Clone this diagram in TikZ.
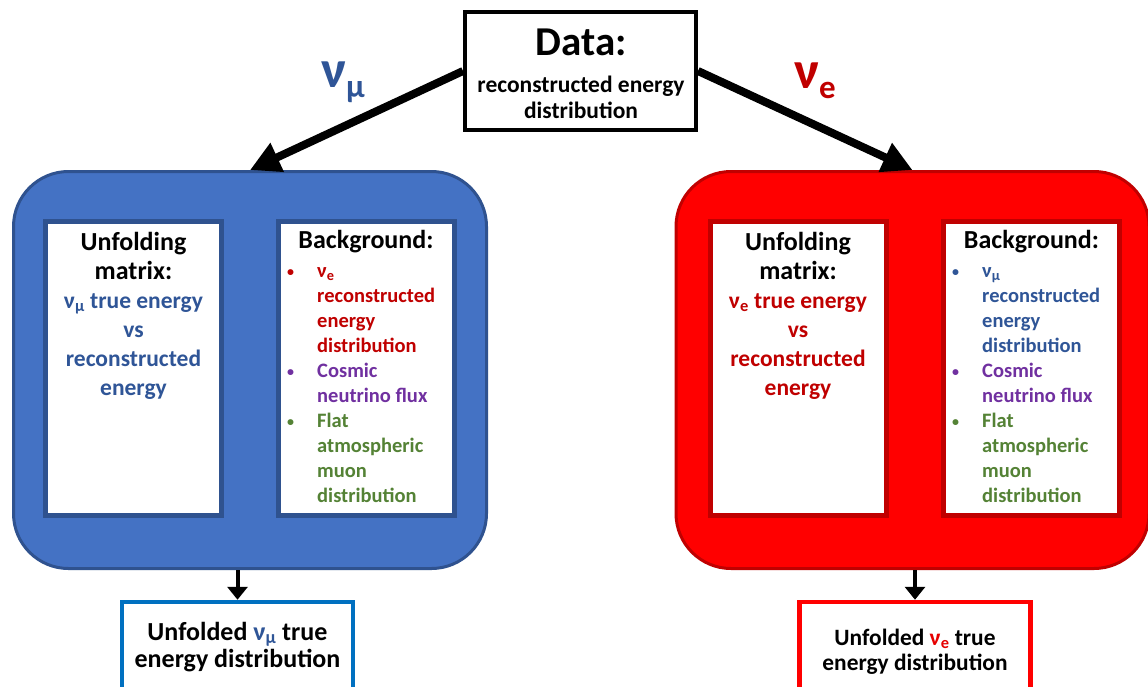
\documentclass[tikz,border=0pt]{standalone}
\usepackage{fontspec}
\setmainfont{Carlito}
\usetikzlibrary{arrows.meta}
\definecolor{bfill}{HTML}{4472C4}
\definecolor{bline}{HTML}{2F528F}
\definecolor{btext}{HTML}{2F5597}
\definecolor{rfill}{HTML}{FF0000}
\definecolor{rline}{HTML}{C00000}
\definecolor{rtext}{HTML}{C00000}
\definecolor{ptext}{HTML}{7030A0}
\definecolor{gtext}{HTML}{548235}
\definecolor{lbotline}{HTML}{0070C0}
\definecolor{esub}{HTML}{E60000}
\newcommand{\blt}[1]{\makebox[31.5pt][l]{\hspace{1.5pt}\color{#1}\raisebox{1pt}{\fontsize{14}{14}\selectfont •}}}
\newcommand{\nob}{\makebox[31.5pt][l]{}}
\begin{document}
\begin{tikzpicture}[x=1pt,y=-1pt, font=\bfseries,
  box/.style={draw, line width=4pt, fill=white, inner sep=0pt},
  bigbox/.style={line width=3pt, rounded corners=55pt, inner sep=0pt, minimum width=473pt, minimum height=397pt},
  panel/.style={draw, line width=5pt, fill=white, inner sep=0pt, minimum width=176pt, minimum height=294pt},
  txt/.style={inner sep=0pt, anchor=base, align=center},
  listtxt/.style={inner sep=0pt, anchor=base west, align=left},
  biglabel/.style={inner sep=0pt, anchor=base west},
  bigarrow/.style={line width=8pt, -{Triangle[length=30pt,width=30pt]}},
  downarrow/.style={line width=4pt, -{Triangle[length=13pt,width=20pt]}}
]
\clip (0,0) rectangle (1148,686);
\fill[white] (0,0) rectangle (1148,686);

% big boxes
\node[bigbox, draw=bline, fill=bfill] (lbox) at (250,370) {};
\node[bigbox, draw=rline, fill=rfill] (rbox) at (912.5,370) {};

% panels
\node[panel, draw=bline] (lum) at (133.5,368.5) {};
\node[panel, draw=bline] (lbg) at (366.5,368.5) {};
\node[panel, draw=rline] (rum) at (798,368.5) {};
\node[panel, draw=rline] (rbg) at (1031.5,368.5) {};

% data box
\node[box, draw=black, minimum width=231pt, minimum height=118pt] (data) at (580.5,71) {};
\node[txt] (datat) at (581,55) {\fontsize{41}{41}\selectfont Data:};
\node[txt] (datas) at (581,92) {\fontsize{23.5}{26}\selectfont\begin{tabular}[t]{@{}c@{}}reconstructed energy\\distribution\end{tabular}};

% bottom boxes
\node[box, draw=lbotline, line width=4.5pt, minimum width=231pt, minimum height=118pt] (lbot) at (237.5,661) {};
\node[box, draw=rfill, line width=4.5pt, minimum width=231pt, minimum height=118pt] (rbot) at (915,661) {};

% arrows
\draw[bigarrow] (data.west) -- (lbox.north);
\draw[bigarrow] (data.east) -- (rbox.north);
\draw[downarrow] (lbot.north |- lbox.south) -- (lbot.north);
\draw[downarrow] (rbot.north |- rbox.south) -- (rbot.north);

% arrow labels
\node[biglabel, text=btext] (lnu) at (321,87) {\fontsize{53}{53}\selectfont ν\raisebox{-10pt}{\fontsize{33}{33}\selectfont μ}};
\node[biglabel, text=rtext] (rnu) at (794,88) {\fontsize{53}{53}\selectfont ν\raisebox{-10pt}{\fontsize{33}{33}\selectfont e}};

% left panel texts
\node[txt] (lumt) at (133.5,250) {\fontsize{26}{29}\selectfont\begin{tabular}[t]{@{}c@{}}Unfolding\\matrix:\\\fontsize{23.5}{29}\selectfont\color{btext}ν\textsubscript{μ} true energy\\\fontsize{23.5}{29}\selectfont\color{btext}vs\\\fontsize{23.5}{29}\selectfont\color{btext}reconstructed\\\fontsize{23.5}{29}\selectfont\color{btext}energy\end{tabular}};
\node[txt] (lbgt) at (366,248) {\fontsize{26}{29}\selectfont Background:};
\node[listtxt] (lbgl) at (285.5,277) {\fontsize{20.5}{25}\selectfont\begin{tabular}[t]{@{}l@{}}
\blt{rtext}\color{rtext}ν\textsubscript{e}\\
\nob\color{rtext}reconstructed\\
\nob\color{rtext}energy\\
\nob\color{rtext}distribution\\
\blt{ptext}\color{ptext}Cosmic\\
\nob\color{ptext}neutrino flux\\
\blt{gtext}\color{gtext}Flat\\
\nob\color{gtext}atmospheric\\
\nob\color{gtext}muon\\
\nob\color{gtext}distribution
\end{tabular}};

% right panel texts
\node[txt] (rumt) at (798,250) {\fontsize{26}{29}\selectfont\begin{tabular}[t]{@{}c@{}}Unfolding\\matrix:\\\fontsize{23.5}{29}\selectfont\color{rtext}ν\textsubscript{e} true energy\\\fontsize{23.5}{29}\selectfont\color{rtext}vs\\\fontsize{23.5}{29}\selectfont\color{rtext}reconstructed\\\fontsize{23.5}{29}\selectfont\color{rtext}energy\end{tabular}};
\node[txt] (rbgt) at (1031.5,248) {\fontsize{26}{29}\selectfont Background:};
\node[listtxt] (rbgl) at (950.5,277) {\fontsize{20.5}{25}\selectfont\begin{tabular}[t]{@{}l@{}}
\blt{btext}\color{btext}ν\textsubscript{μ}\\
\nob\color{btext}reconstructed\\
\nob\color{btext}energy\\
\nob\color{btext}distribution\\
\blt{ptext}\color{ptext}Cosmic\\
\nob\color{ptext}neutrino flux\\
\blt{gtext}\color{gtext}Flat\\
\nob\color{gtext}atmospheric\\
\nob\color{gtext}muon\\
\nob\color{gtext}distribution
\end{tabular}};

% bottom texts
\node[txt] (lbott) at (237.5,640) {\fontsize{26}{27}\selectfont\begin{tabular}[t]{@{}c@{}}Unfolded {\color{btext}ν\textsubscript{μ}} true\\energy distribution\end{tabular}};
\node[txt] (rbott) at (915,645) {\fontsize{23.4}{25}\selectfont\begin{tabular}[t]{@{}c@{}}Unfolded {\color{esub}ν\textsubscript{e}} true\\energy distribution\end{tabular}};
\end{tikzpicture}
\end{document}
